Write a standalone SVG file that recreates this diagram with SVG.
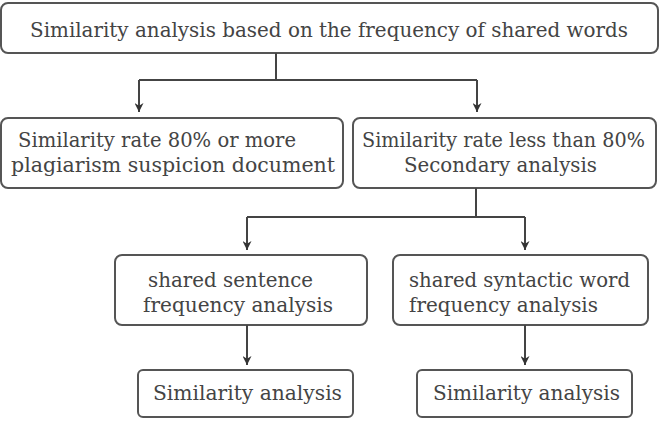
<svg xmlns="http://www.w3.org/2000/svg" width="660" height="429" viewBox="0 0 660 429">
<defs>
<marker id="ah" viewBox="0 0 10 10" refX="10" refY="5" markerWidth="9" markerHeight="9" markerUnits="userSpaceOnUse" orient="auto">
<path d="M0,0 L10,5 L0,10 L3,5 z" fill="#333"/>
</marker>
<style>
.box{fill:#fff;stroke:#555;stroke-width:2}
.t{font-family:"DejaVu Serif","Liberation Serif",serif;font-size:20.5px;fill:#444}
.ln{fill:none;stroke:#444;stroke-width:2}
</style>
</defs>
<rect width="660" height="429" fill="#fff"/>
<g id="top">
<rect class="box" x="1" y="3" width="657" height="50" rx="7"/>
<text class="t" x="30" y="37" textLength="598" lengthAdjust="spacingAndGlyphs">Similarity analysis based on the frequency of shared words</text>
</g>
<g id="left">
<rect class="box" x="1" y="118" width="342" height="70" rx="7"/>
<text class="t" x="18" y="147" textLength="278" lengthAdjust="spacingAndGlyphs">Similarity rate 80% or more</text>
<text class="t" x="11" y="172" textLength="324" lengthAdjust="spacingAndGlyphs">plagiarism suspicion document</text>
</g>
<g id="right">
<rect class="box" x="353" y="118" width="303" height="70" rx="7"/>
<text class="t" x="362" y="147" font-size="19.5" style="font-size:19.5px" textLength="283" lengthAdjust="spacingAndGlyphs">Similarity rate less than 80%</text>
<text class="t" x="404" y="172" textLength="193" lengthAdjust="spacingAndGlyphs">Secondary analysis</text>
</g>
<g id="midleft">
<rect class="box" x="115" y="255" width="252" height="70" rx="7"/>
<text class="t" x="148" y="287" textLength="165" lengthAdjust="spacingAndGlyphs">shared sentence</text>
<text class="t" x="143" y="312" textLength="190" lengthAdjust="spacingAndGlyphs">frequency analysis</text>
</g>
<g id="midright">
<rect class="box" x="393" y="255" width="255" height="70" rx="7"/>
<text class="t" x="409" y="287" textLength="221" lengthAdjust="spacingAndGlyphs">shared syntactic word</text>
<text class="t" x="409" y="312" textLength="189" lengthAdjust="spacingAndGlyphs">frequency analysis</text>
</g>
<g id="botleft">
<rect class="box" x="138" y="370" width="215" height="47" rx="5"/>
<text class="t" x="153" y="400" textLength="189" lengthAdjust="spacingAndGlyphs">Similarity analysis</text>
</g>
<g id="botright">
<rect class="box" x="417" y="370" width="215" height="47" rx="5"/>
<text class="t" x="433" y="400" textLength="187" lengthAdjust="spacingAndGlyphs">Similarity analysis</text>
</g>
<g id="connectors">
<path class="ln" d="M276,53 V80"/>
<path class="ln" d="M139,80 H477"/>
<path class="ln" d="M139,80 V112" marker-end="url(#ah)"/>
<path class="ln" d="M477,80 V112" marker-end="url(#ah)"/>
<path class="ln" d="M476,188 V217"/>
<path class="ln" d="M247,217 H525"/>
<path class="ln" d="M247,217 V250" marker-end="url(#ah)"/>
<path class="ln" d="M525,217 V250" marker-end="url(#ah)"/>
<path class="ln" d="M247,325 V365" marker-end="url(#ah)"/>
<path class="ln" d="M525,325 V365" marker-end="url(#ah)"/>
</g>
</svg>
